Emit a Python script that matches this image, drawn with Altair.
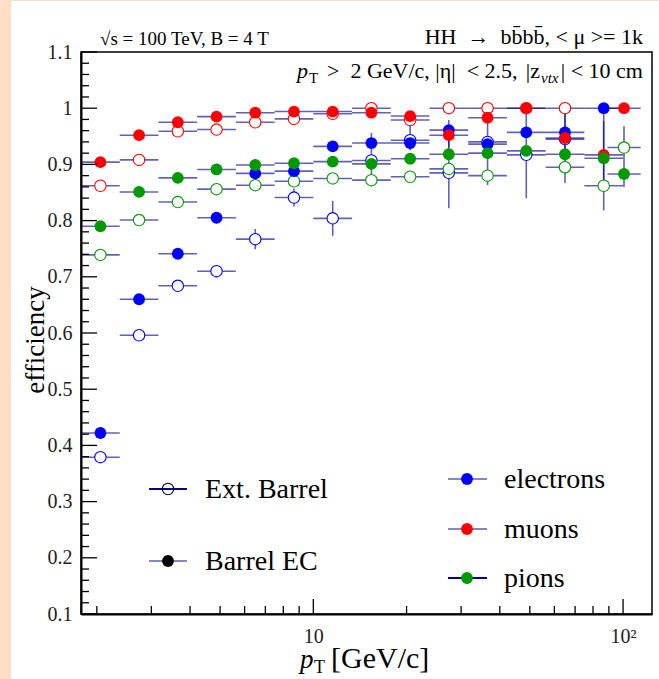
import altair as alt
import pandas as pd

FONT = "Liberation Serif"

# ---------------- data ----------------
bin_lo = [1.778, 2.371, 3.162, 4.217, 5.623, 7.499, 10.0, 13.34, 17.78, 23.71, 31.62, 42.17, 56.23, 74.99, 89.0]
bin_hi = [2.371, 3.162, 4.217, 5.623, 7.499, 10.0, 13.34, 17.78, 23.71, 31.62, 42.17, 56.23, 74.99, 100.0, 114.0]
bin_c = [2.054, 2.738, 3.652, 4.870, 6.494, 8.660, 11.55, 15.40, 20.54, 27.38, 36.52, 48.70, 64.94, 86.60, 100.7]

N = None
muon_bec = [0.904, 0.952, 0.975, 0.985, 0.992, 0.994, 0.994, 0.992, 0.986, 0.952, 0.983, 1.0, 0.947, 0.917, 1.0]
muon_ext = [0.862, 0.908, 0.959, 0.962, 0.975, 0.981, 0.990, 1.0, 0.979, 1.0, 1.0, 1.0, 1.0, N, N]
elec_bec = [0.422, 0.660, 0.741, 0.805, 0.884, 0.888, 0.932, 0.938, 0.938, 0.961, 0.936, 0.957, 0.957, 1.0, N]
elec_ext = [0.379, 0.596, 0.684, 0.710, 0.767, 0.841, 0.804, 0.907, 0.943, 0.885, 0.940, 0.917, 0.945, N, N]
pion_bec = [0.790, 0.851, 0.876, 0.891, 0.899, 0.902, 0.905, 0.901, 0.910, 0.918, 0.920, 0.924, 0.918, 0.911, 0.883]
pion_ext = [0.739, 0.801, 0.833, 0.856, 0.863, 0.870, 0.875, 0.872, 0.878, 0.892, 0.880, N, 0.895, 0.862, 0.930]

# vertical uncertainties (down, up)
muon_bec_dn = [0, 0, 0, 0, 0, 0, 0, 0, 0, 0, 0, 0, 0, 0.06, 0]
muon_bec_up = [0, 0, 0, 0, 0, 0, 0, 0, 0, 0, 0, 0, 0, 0.06, 0]
muon_ext_dn = [0] * 15
muon_ext_up = [0] * 15
elec_bec_dn = [0, 0, 0, 0, 0, 0, 0, 0, 0, 0.031, 0, 0, 0.05, 0.182, 0]
elec_bec_up = [0, 0, 0, 0, 0, 0, 0, 0, 0, 0.018, 0, 0, 0.043, 0, 0]
elec_ext_dn = [0, 0, 0, 0.011, 0.018, 0.016, 0.031, 0.035, 0.018, 0.063, 0.077, 0.077, 0.078, 0, 0]
elec_ext_up = [0, 0, 0, 0.011, 0.018, 0.016, 0.031, 0.049, 0.042, 0.075, 0.060, 0.083, 0.055, 0, 0]
pion_bec_dn = [0] * 15
pion_bec_up = [0] * 15
pion_ext_dn = [0] * 14 + [0.07]
pion_ext_up = [0] * 14 + [0.038]

particles = ["electrons", "muons", "pions"]
colors = ["#0000ff", "#ff0000", "#009900"]
regions = ["Ext. Barrel", "Barrel EC"]

series = [
    ("electrons", "Ext. Barrel", elec_ext, elec_ext_dn, elec_ext_up),
    ("muons", "Ext. Barrel", muon_ext, muon_ext_dn, muon_ext_up),
    ("pions", "Ext. Barrel", pion_ext, pion_ext_dn, pion_ext_up),
    ("electrons", "Barrel EC", elec_bec, elec_bec_dn, elec_bec_up),
    ("muons", "Barrel EC", muon_bec, muon_bec_dn, muon_bec_up),
    ("pions", "Barrel EC", pion_bec, pion_bec_dn, pion_bec_up),
]

rows = []
for part, reg, vals, dn, up in series:
    for i, v in enumerate(vals):
        if v is None:
            continue
        rows.append(dict(particle=part, region=reg, pt=bin_c[i], lo=bin_lo[i], hi=bin_hi[i],
                         eff=v, elo=v - dn[i], ehi=v + up[i], haserr=(dn[i] + up[i]) > 0))
df = pd.DataFrame(rows)

y_major = [0.1, 0.2, 0.3, 0.4, 0.5, 0.6, 0.7, 0.8, 0.9, 1.0, 1.1]
y_minor = [round(0.1 + 0.02 * k, 2) for k in range(51) if k % 5 != 0]
x_major = [10, 100]
x_minor = [2, 3, 4, 5, 6, 7, 8, 9, 20, 30, 40, 50, 60, 70, 80, 90]

# ---------------- scales / axes ----------------
OX, OY = 81, 52
W, H = 571, 562
xs = alt.Scale(type="log", domain=[1.778, 124], nice=False)
ys = alt.Scale(domain=[0.1, 1.1], nice=False, zero=False)
cs = alt.Scale(domain=particles, range=colors)

xaxis = alt.Axis(values=x_major, labelExpr="datum.value == 10 ? '10' : '10²'", ticks=False, grid=False,
                 domainColor="black", domainWidth=2, labelFont=FONT, labelFontSize=20, labelColor="#222",
                 labelPadding=12, title=None, zindex=1, labelFlush=False)
yaxis = alt.Axis(values=y_major, labelExpr="datum.value == 1 ? '1' : format(datum.value, '.1f')", ticks=False,
                 grid=False, domainColor="black", domainWidth=2, labelFont=FONT, labelFontSize=20,
                 labelColor="#222", labelPadding=9, title=None, zindex=1)

base = alt.Chart(df)
EB = "#000090"

hbars = base.mark_rule(color=EB, opacity=0.62, strokeWidth=1.6).encode(
    x=alt.X("lo:Q", scale=xs, axis=xaxis), x2="hi:Q",
    y=alt.Y("eff:Q", scale=ys, axis=yaxis))
vbars = base.transform_filter("datum.haserr").mark_rule(color=EB, opacity=0.62, strokeWidth=1.6).encode(
    x=alt.X("pt:Q", scale=xs), y=alt.Y("elo:Q", scale=ys), y2="ehi:Q")
open_pts = base.transform_filter("datum.region == 'Ext. Barrel'").mark_point(
    shape="circle", size=130, filled=True, fill="white", strokeWidth=1.1, opacity=1).encode(
    x=alt.X("pt:Q", scale=xs), y=alt.Y("eff:Q", scale=ys),
    stroke=alt.Stroke("particle:N", scale=cs, legend=None))
fill_pts = base.transform_filter("datum.region == 'Barrel EC'").mark_circle(size=140, opacity=1).encode(
    x=alt.X("pt:Q", scale=xs), y=alt.Y("eff:Q", scale=ys),
    color=alt.Color("particle:N", scale=cs, legend=None))

def yticks(vals, length):
    return alt.Chart(pd.DataFrame({"v": vals})).mark_rule(color="black", strokeWidth=1.3).encode(
        y=alt.Y("v:Q", scale=ys), x=alt.value(0), x2=alt.value(length))

def xticks(vals, length):
    return alt.Chart(pd.DataFrame({"v": vals})).mark_rule(color="black", strokeWidth=1.3).encode(
        x=alt.X("v:Q", scale=xs), y=alt.value(H), y2=alt.value(H - length))

def text(txt, cx, cy, size, align="left", baseline="alphabetic", style="normal", angle=0):
    return alt.Chart(pd.DataFrame({"t": [txt]})).mark_text(
        align=align, baseline=baseline, fontSize=size, font=FONT, fontStyle=style,
        angle=angle, color="black").encode(x=alt.value(cx - OX), y=alt.value(cy - OY), text="t:N")

def lrule(x1, x2, cy, color):
    return alt.Chart(pd.DataFrame({"a": [0]})).mark_rule(color=color, strokeWidth=1.8).encode(
        x=alt.value(x1 - OX), x2=alt.value(x2 - OX), y=alt.value(cy - OY))

def ldot(cx, cy, color, filled):
    if filled:
        m = alt.Chart(pd.DataFrame({"a": [0]})).mark_circle(size=140, color=color, opacity=1)
    else:
        m = alt.Chart(pd.DataFrame({"a": [0]})).mark_point(shape="circle", size=130, filled=False,
                                                           color=color, strokeWidth=1.1, opacity=1)
    return m.encode(x=alt.value(cx - OX), y=alt.value(cy - OY))

# peach page edge
peach = alt.Chart(pd.DataFrame({"a": [0]})).mark_rect(color="#ffdfc8").encode(
    x=alt.value(-OX), x2=alt.value(11 - OX), y=alt.value(-OY), y2=alt.value(679 - OY))
peach_top = alt.Chart(pd.DataFrame({"a": [0]})).mark_rect(color="#ffdfc8").encode(
    x=alt.value(-OX), x2=alt.value(659 - OX), y=alt.value(-OY), y2=alt.value(1 - OY))

LIGHT = "#8585cc"
LF = 28
legend_layers = [
    lrule(149, 187, 489, EB), ldot(168, 489, "black", False), text(regions[0], 205, 490, LF, baseline="middle"),
    lrule(149, 187, 561, LIGHT), ldot(168, 561, "black", True), text(regions[1], 205, 562, LF, baseline="middle"),
    lrule(448, 487, 479, LIGHT), ldot(467, 479, colors[0], True), text(particles[0], 504, 480, LF, baseline="middle"),
    lrule(448, 487, 529, LIGHT), ldot(467, 529, colors[1], True), text(particles[1], 504, 530, LF, baseline="middle"),
    lrule(448, 487, 578, EB), ldot(467, 578, colors[2], True), text(particles[2], 504, 579, LF, baseline="middle"),
]

S = "\u00a0"
title_layers = [
    text("√s = 100 TeV, B = 4 T", 100, 45, 19),
    text(f"HH{S}{S}→{S}{S}bb̄bb̄,{S}<{S}μ{S}>={S}1k", 643, 44, 22, align="right"),
    text("p", 297, 78, 22, style="italic"),
    text("T", 309, 83, 15),
    text(f">{S}{S}2 GeV/c,{S}|η|{S}{S}<{S}2.5,", 327, 78, 22),
    text("|z", 540, 78, 22, align="right"),
    text("vtx", 541, 83, 15, style="italic"),
    text(f"|{S}<{S}10 cm", 643, 78, 22, align="right"),
    text("efficiency", 36, 340, 27, align="center", baseline="middle", angle=270),
    text("p", 300, 668, 27, style="italic"),
    text("T", 314, 673, 18),
    text("[GeV/c]", 331, 668, 30),
]

chart = alt.layer(
    peach, peach_top, hbars, vbars, open_pts, fill_pts,
    yticks(y_major, 16), yticks(y_minor, 8), xticks(x_major, 15), xticks(x_minor, 8),
    *legend_layers, *title_layers,
).properties(
    width=W, height=H,
    autosize=alt.AutoSizeParams(type="none"),
    padding={"left": OX, "top": OY, "right": 659 - OX - W, "bottom": 679 - OY - H},
    background="white",
).configure_view(stroke="black", strokeWidth=1.5)

chart.save("out.html", embed_options={"renderer": "svg", "actions": False})
